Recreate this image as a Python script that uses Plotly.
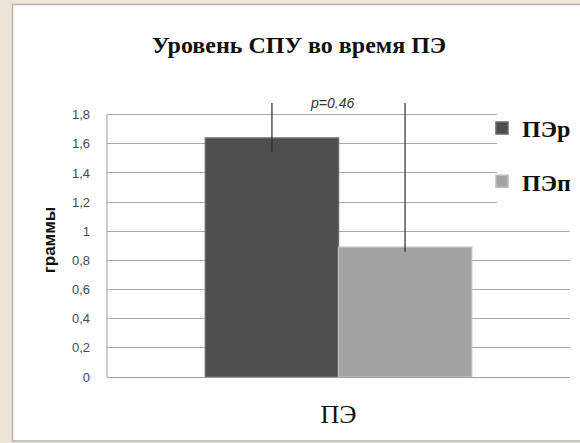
import plotly.graph_objects as go

# Data
category = ["ПЭ"]
series_names = ["ПЭр", "ПЭп"]
values = [1.64, 0.89]
err_plus = [0.24, 0.99]
err_minus = [0.10, 0.03]
bar_colors = ["#4e4e4e", "#a3a3a3"]
edge_colors = ["#6a6a6a", "#bcbcbc"]
tick_vals = [0, 0.2, 0.4, 0.6, 0.8, 1.0, 1.2, 1.4, 1.6, 1.8]
tick_text = ["0", "0,2", "0,4", "0,6", "0,8", "1", "1,2", "1,4", "1,6", "1,8"]
p_label = "p=0.46"

W, H = 580, 443
ML, MR, MT, MB = 107, 10, 103, 66
PW, PH = W - ML - MR, H - MT - MB
SERIF = "Liberation Serif, Times New Roman, serif"
SANS = "Liberation Sans, Arial, sans-serif"


def px_x(x):
    return (x - ML) / PW


def px_y(y):
    return (H - MB - y) / PH


fig = go.Figure()
for name, v, ep, em, c, ec in zip(series_names, values, err_plus, err_minus, bar_colors, edge_colors):
    fig.add_trace(go.Bar(
        x=category, y=[v], name=name,
        marker=dict(color=c, line=dict(color=ec, width=1.5)),
        error_y=dict(type="data", symmetric=False, array=[ep], arrayminus=[em],
                     color="#2a2a2a", thickness=1.2, width=0),
        legendgroup=name,
    ))

shapes = [
    # outer white card with grey border
    dict(type="rect", xref="paper", yref="paper",
         x0=px_x(12.5), x1=px_x(590), y0=px_y(441), y1=px_y(4.5),
         fillcolor="white", line=dict(color="#b4b4b4", width=1.5), layer="below"),
    # value axis line
    dict(type="line", xref="paper", yref="y", x0=0, x1=0, y0=0, y1=1.8,
         line=dict(color="#9a9a9a", width=1), layer="above"),
    # legend backdrop hides gridlines behind the legend
    dict(type="rect", xref="paper", yref="paper",
         x0=px_x(497), x1=px_x(590), y0=px_y(215), y1=px_y(100),
         fillcolor="white", line=dict(width=0), layer="above"),
]

fig.update_layout(
    width=W, height=H,
    margin=dict(l=ML, r=MR, t=MT, b=MB, autoexpand=False),
    paper_bgcolor="#ece5d8",
    plot_bgcolor="rgba(0,0,0,0)",
    barmode="group",
    bargap=0.425,
    bargroupgap=0,
    showlegend=True,
    title=dict(text="Уровень СПУ во время ПЭ", xref="container", x=299 / W, xanchor="center",
               yref="container", y=1 - 45 / H, yanchor="middle",
               font=dict(family=SERIF, size=24, color="#111111", weight="bold")),
    legend=dict(x=px_x(482), xanchor="left", y=px_y(106), yanchor="top",
                bgcolor="rgba(0,0,0,0)", tracegroupgap=19,
                font=dict(family=SERIF, size=24, color="#111111", weight="bold"),
                traceorder="grouped"),
    shapes=shapes,
    xaxis=dict(showticklabels=False, showgrid=False, zeroline=False, showline=False,
               title=dict(text="ПЭ", standoff=27,
                          font=dict(family=SERIF, size=26, color="#111111"))),
    yaxis=dict(range=[0, 1.88], tickvals=tick_vals, ticktext=tick_text,
               showgrid=True, gridcolor="#a9a9a9", gridwidth=1,
               zeroline=True, zerolinecolor="#a0a0a0", zerolinewidth=1.2,
               showline=False, ticks="", ticklabelstandoff=16,
               tickfont=dict(family=SANS, size=13, color="#4a4a4a"),
               title=dict(text="граммы", standoff=11,
                          font=dict(family=SANS, size=17, color="#111111", weight="bold"))),
    annotations=[dict(text=p_label, xref="paper", yref="paper", x=px_x(332), y=px_y(103),
                      showarrow=False, yanchor="middle",
                      font=dict(family=SANS, size=14, color="#333333", style="italic"))],
)

fig.write_html("out.html")
